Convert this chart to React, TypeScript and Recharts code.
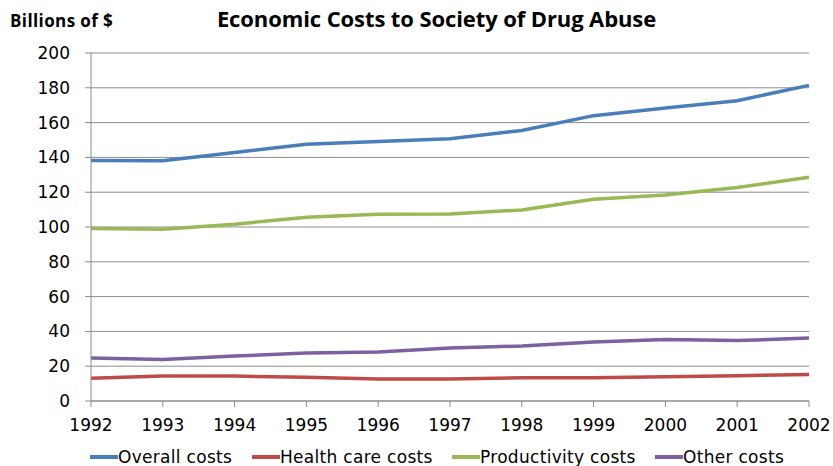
import { LineChart, Line, XAxis, YAxis, CartesianGrid } from 'recharts'

const years = ['1992', '1993', '1994', '1995', '1996', '1997', '1998', '1999', '2000', '2001', '2002']
const overallCosts = [138.2, 138.1, 142.8, 147.6, 149.2, 150.7, 155.5, 164.0, 168.4, 172.6, 181.4]
const healthCareCosts = [13.1, 14.3, 14.3, 13.7, 12.6, 12.6, 13.4, 13.4, 13.9, 14.5, 15.3]
const productivityCosts = [99.2, 98.7, 101.6, 105.6, 107.3, 107.5, 109.8, 116.0, 118.4, 122.7, 128.6]
const otherCosts = [24.7, 23.9, 25.8, 27.6, 28.1, 30.4, 31.6, 33.9, 35.4, 34.7, 36.2]
const yTicks = [0, 20, 40, 60, 80, 100, 120, 140, 160, 180, 200]

const series = [
  { key: 'overall', name: 'Overall costs', color: '#4a7ebb' },
  { key: 'health', name: 'Health care costs', color: '#be4b48' },
  { key: 'productivity', name: 'Productivity costs', color: '#98b954' },
  { key: 'other', name: 'Other costs', color: '#7d60a0' },
]
// where each legend label starts
const legendX = [118, 280, 480, 683]

const data = years.map((year, i) => ({
  year,
  overall: overallCosts[i],
  health: healthCareCosts[i],
  productivity: productivityCosts[i],
  other: otherCosts[i],
}))

const font = '"DejaVu Sans", sans-serif'
const gridColor = '#8c8c8c'

// legend drawn as html below the plot so it does not shrink the plot area
function ChartLegend() {
  return (
    <>
      {series.map((s, i) => (
        <div
          key={s.key}
          style={{
            position: 'absolute', left: legendX[i] - 28, top: 447, display: 'flex', alignItems: 'center',
            fontFamily: font, fontSize: 17, lineHeight: '20px', letterSpacing: 0.3, color: '#000', whiteSpace: 'nowrap',
          }}
        >
          <div style={{ width: 28, height: 4, background: s.color }} />
          <span>{s.name}</span>
        </div>
      ))}
    </>
  )
}

export default function App() {
  return (
    <div style={{ position: 'absolute', left: 0, top: 0, width: 833, height: 466, background: '#fff', overflow: 'hidden' }}>
      <div
        style={{
          position: 'absolute', left: 0, top: 3, width: 873, textAlign: 'center', whiteSpace: 'nowrap',
          fontFamily: '"Open Sans", sans-serif', fontWeight: 'bold', fontSize: 22, letterSpacing: -0.1,
        }}
      >
        Economic Costs to Society of Drug Abuse
      </div>
      <div
        style={{
          position: 'absolute', left: 10, top: 9, whiteSpace: 'nowrap',
          fontFamily: '"Open Sans", sans-serif', fontWeight: 'bold', fontSize: 17, letterSpacing: 0.4,
        }}
      >
        Billions of $
      </div>
      <LineChart width={833} height={466} data={data} margin={{ top: 53, right: 24, bottom: 35, left: 0 }}>
        <CartesianGrid vertical={false} stroke={gridColor} strokeWidth={1} />
        <XAxis
          dataKey="year"
          stroke={gridColor}
          tickSize={6}
          tickMargin={12}
          interval={0}
          height={30}
          tick={{ fill: '#000', fontFamily: font, fontSize: 17 }}
          tickLine={{ stroke: gridColor }}
        />
        <YAxis
          domain={[0, 200]}
          ticks={yTicks}
          width={91}
          stroke={gridColor}
          tickSize={6}
          tickMargin={15}
          interval={0}
          tick={{ fill: '#000', fontFamily: font, fontSize: 17 }}
          tickLine={{ stroke: gridColor }}
        />
        {series.map((s) => (
          <Line
            key={s.key}
            type="linear"
            dataKey={s.key}
            name={s.name}
            stroke={s.color}
            strokeWidth={3.5}
            dot={false}
            isAnimationActive={false}
          />
        ))}
      </LineChart>
      <ChartLegend />
    </div>
  )
}
